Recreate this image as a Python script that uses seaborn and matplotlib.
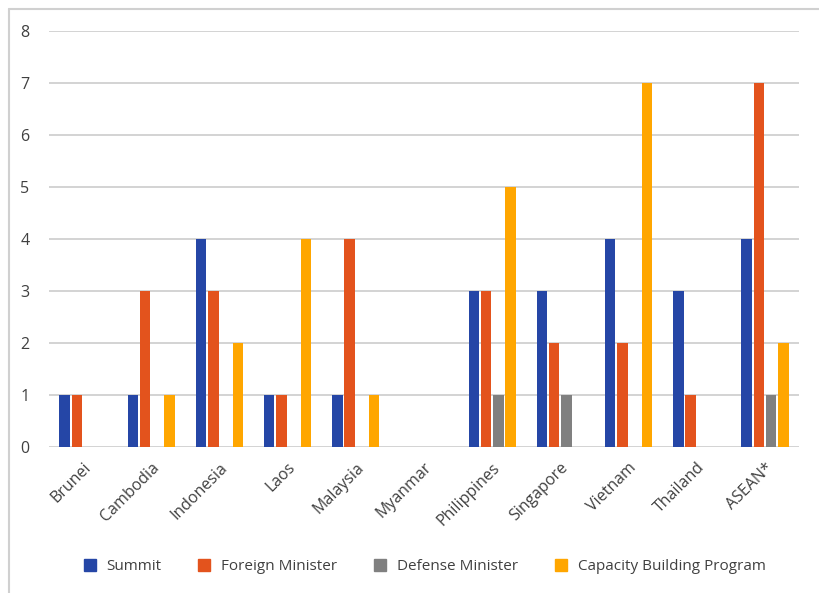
import matplotlib
matplotlib.use("Agg")
import matplotlib.pyplot as plt
import seaborn as sns
import pandas as pd
from matplotlib.lines import Line2D

countries = ["Brunei", "Cambodia", "Indonesia", "Laos", "Malaysia", "Myanmar",
             "Philippines", "Singapore", "Vietnam", "Thailand", "ASEAN*"]
series = ["Summit", "Foreign Minister", "Defense Minister", "Capacity Building Program"]
summit = [1, 1, 4, 1, 1, 0, 3, 3, 4, 3, 4]
foreign = [1, 3, 3, 1, 4, 0, 3, 2, 2, 1, 7]
defense = [0, 0, 0, 0, 0, 0, 1, 1, 0, 0, 1]
capacity = [0, 1, 2, 4, 1, 0, 5, 0, 7, 0, 2]
colors = ["#2546A6", "#E3531D", "#808080", "#FFA600"]
y_ticks = [0, 1, 2, 3, 4, 5, 6, 7, 8]

rows = []
for name, vals in zip(series, [summit, foreign, defense, capacity]):
    for c, v in zip(countries, vals):
        rows.append({"Country": c, "Series": name, "Value": v})
df = pd.DataFrame(rows)

sns.set_theme(style="white")
plt.rcParams["font.family"] = ["Open Sans", "DejaVu Sans"]

fig = plt.figure(figsize=(8.19, 5.93), dpi=100)
ax = fig.add_axes([49 / 819, 1 - 447 / 593, 750 / 819, 416 / 593])

sns.barplot(data=df, x="Country", y="Value", hue="Series", order=countries,
            hue_order=series, palette=colors, width=0.72, gap=0.15, saturation=1,
            linewidth=0, ax=ax, legend=False, zorder=3)

ax.set_ylim(0, 8)
ax.set_xlim(-0.5, len(countries) - 0.5)
ax.set_yticks(y_ticks)
ax.set_yticklabels([str(t) for t in y_ticks], fontsize=11.5, color="#404040")
ax.yaxis.grid(True, color="#D0D0D0", linewidth=1.3, zorder=0)
ax.set_axisbelow(True)
ax.tick_params(axis="y", length=0, pad=14)
ax.tick_params(axis="x", length=0, pad=9)
ax.set_xticks(range(len(countries)))
ax.set_xticklabels(countries, rotation=45, ha="right", rotation_mode="anchor",
                   fontsize=11.5, color="#404040")
ax.set_xlabel("")
ax.set_ylabel("")
for s in ax.spines.values():
    s.set_visible(False)

handles = [Line2D([0], [0], marker="s", linestyle="", markersize=8,
                  markerfacecolor=c, markeredgecolor=c) for c in colors]
fig.legend(handles, series, loc="center", bbox_to_anchor=(420 / 819, 1 - 567 / 593),
           ncol=4, frameon=False, fontsize=11, handletextpad=0.1,
           columnspacing=1.8, labelcolor="#404040")

# outer chart frame (partially visible)
fig.add_artist(Line2D([9 / 819, 9 / 819], [0, 1 - 9 / 593], color="#D0D0D0",
                      linewidth=1.5, transform=fig.transFigure))
fig.add_artist(Line2D([9 / 819, 1], [1 - 9 / 593, 1 - 9 / 593], color="#D0D0D0",
                      linewidth=1.5, transform=fig.transFigure))

fig.savefig("out.png", dpi=100, facecolor="white")
